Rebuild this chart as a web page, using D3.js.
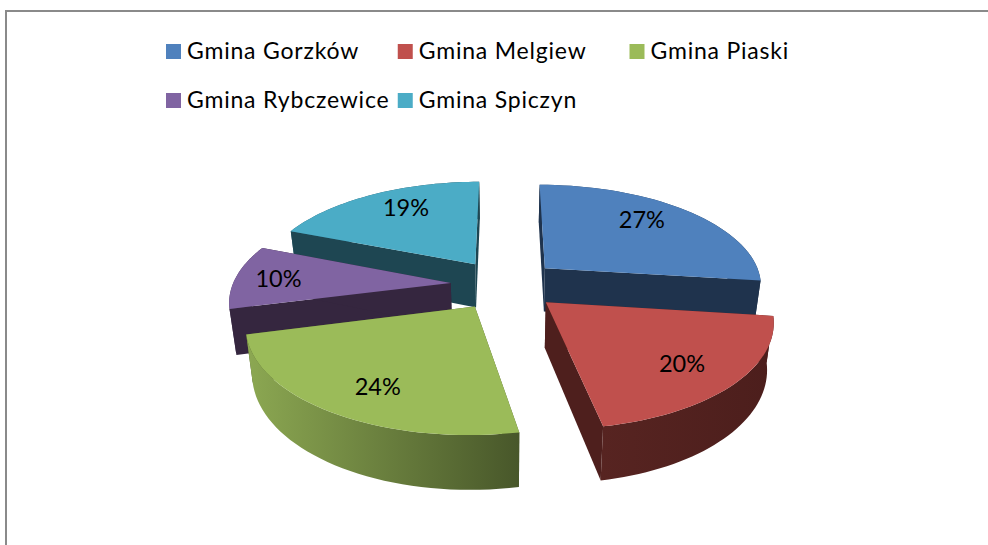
<!DOCTYPE html>
<html><head><meta charset="utf-8">
<script src="https://cdn.jsdelivr.net/npm/d3@7"></script>
<style>html,body{margin:0;padding:0;background:#fff;overflow:hidden}svg{display:block}
text{font-family:Lato,"Open Sans",sans-serif;fill:#000}</style>
</head><body><svg id="c" width="988" height="545"></svg>
<script>
const categories=["Gmina Gorzków","Gmina Melgiew","Gmina Piaski","Gmina Rybczewice","Gmina Spiczyn"];
const values=[27,20,24,10,19];
const topColors=["#4f81bd","#c0504d","#9bbb59","#8064a2","#4bacc6"];
const wallColors=["#1f334d","#4e1f1d","#4b5a2b","#35263f","#1e4652"];
const rimLight=["#2a4365","#572421","#8ca852","#4b3a60","#2b6477"];
const rimDark=["#1f334d","#4c1e1c","#48572a","#35263f","#1e4652"];
const labelTurn=[-5.2,1.4,-3.2,-0.5,4.5];
const labelRadius=[0.74,0.76,0.76,0.8,0.756];
const paintOrder=[4,0,3,1,2];

const svg=d3.select("#c");
const defs=svg.append("defs");
const cx=505,cy=284.5,A=218,B=101,persp=0.155,explode=0.25,drop=44.5,shrink=0.975;
const toW=d=>d*Math.PI/180;
const project=(X,Z)=>{const w=1+persp*Z;return [cx+A*X/w,cy-B*Z/w,w];};
const lower=p=>[cx+(p[0]-cx)*shrink,p[1]+drop/p[2]];
const arcs=d3.pie().sort(null).value(d=>d)(values);
const line=d3.line();

svg.append("path").attr("d","M6,545V11H988").attr("fill","none").attr("stroke","#8a8a8a").attr("stroke-width",2);

paintOrder.forEach(i=>{
  const a=arcs[i],mid=(a.startAngle+a.endAngle)/2;
  const ox=explode*Math.sin(mid),oz=explode*Math.cos(mid);
  const apex=project(ox,oz);
  const rim=d3.range(0,41).map(k=>{
    const t=a.startAngle+(a.endAngle-a.startAngle)*k/40;
    return project(ox+Math.sin(t),oz+Math.cos(t));
  });
  const g=svg.append("g");
  const gid="rim"+i;
  const gr=defs.append("linearGradient").attr("id",gid);
  gr.append("stop").attr("offset",0).attr("stop-color",rimLight[i]);
  gr.append("stop").attr("offset",1).attr("stop-color",rimDark[i]);
  const rimPoly=rim.map(p=>[p[0],p[1]]).concat(rim.slice().reverse().map(lower));
  const drawRim=()=>g.append("path").attr("d",line(rimPoly)+"Z").attr("fill",`url(#${gid})`);
  const near=Math.cos(mid)<-0.1;
  if(!near) drawRim();
  [rim[0],rim[40]].forEach(e=>{
    g.append("path").attr("d",line([[apex[0],apex[1]],[e[0],e[1]],lower(e),lower(apex)])+"Z").attr("fill",wallColors[i]);
  });
  if(near) drawRim();
  g.append("path").attr("d",line([[apex[0],apex[1]],...rim.map(p=>[p[0],p[1]])])+"Z").attr("fill",topColors[i]);
});

arcs.forEach((a,i)=>{
  const mid=(a.startAngle+a.endAngle)/2;
  const t=mid+toW(labelTurn[i]),r=labelRadius[i];
  const p=project(explode*Math.sin(mid)+r*Math.sin(t),explode*Math.cos(mid)+r*Math.cos(t));
  svg.append("text").attr("x",p[0]).attr("y",p[1]+8).attr("text-anchor","middle").attr("font-size",23.5).text(d3.format(".0%")(values[i]/d3.sum(values)));
});

const legendCols=d3.scalePoint().domain([0,1,2]).range([166,629.5]);
const legendRows=d3.scalePoint().domain([0,1]).range([44,93]);
categories.forEach((c,i)=>{
  const col=i<3?i:i-3,row=i<3?0:1;
  const x=legendCols(col),y=legendRows(row);
  svg.append("rect").attr("x",x).attr("y",y).attr("width",15).attr("height",15).attr("fill",topColors[i]);
  svg.append("text").attr("x",x+21).attr("y",y+15).attr("font-size",23).attr("letter-spacing",0.8).text(c);
});
</script></body></html>
